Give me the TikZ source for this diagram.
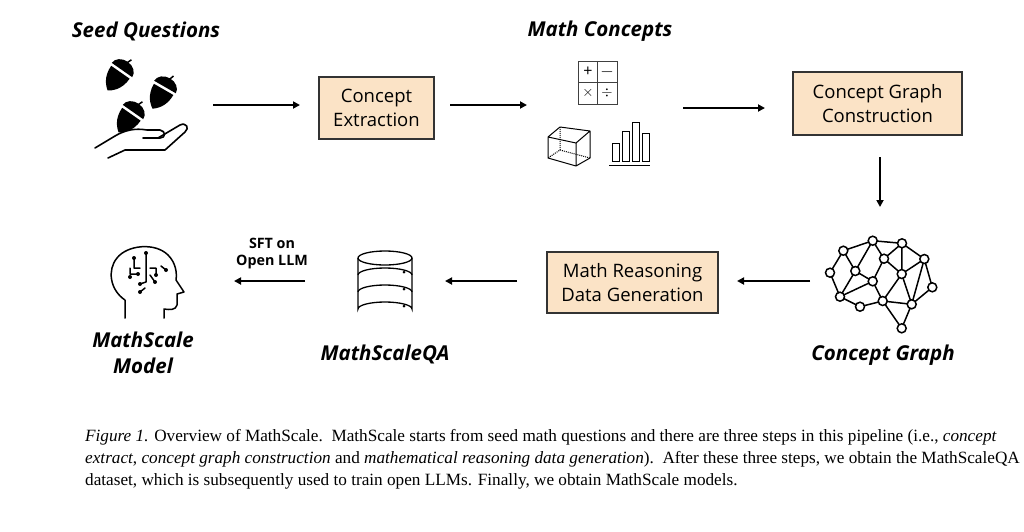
\documentclass[tikz,border=0pt]{standalone}
\usepackage{fontspec}
\setmainfont{Liberation Serif}
\newfontfamily\sansf{Open Sans}
\newfontfamily\boldf{Open Sans}
\usetikzlibrary{arrows.meta}
\definecolor{peach}{HTML}{FBE3C6}
\begin{document}
\begin{tikzpicture}[x=1pt,y=-1pt,
  box/.style={draw=black!80,line width=1.3pt,fill=peach,align=center,font=\sansf\fontsize{18.5}{24}\selectfont,inner sep=0},
  arr/.style={-{Triangle[length=7pt,width=7pt]},line width=1.8pt},
  ttl/.style={font=\boldf\bfseries\itshape\fontsize{20.5}{26}\selectfont,align=center},
  ic/.style={line width=1.6pt,line cap=round,line join=round}]
\useasboundingbox (0,0) rectangle (1024,531);
% titles
\node[ttl] (tseed) at (146,31) {Seed Questions};
\node[ttl] (tmath) at (600,31) {Math Concepts};
\node[ttl] (tcg) at (883,355) {Concept Graph};
\node[ttl] (tqa) at (385,354) {MathScaleQA};
\node[ttl] (tmod) at (143,353) {MathScale\\Model};
\node[font=\boldf\bfseries\fontsize{14.3}{17}\selectfont,align=center] (tsft) at (272,254) {SFT on\\Open LLM};
% boxes
\node[box,minimum width=115,minimum height=62] (ce) at (376.5,108) {Concept\\Extraction};
\node[box,minimum width=169,minimum height=63] (cgc) at (877.5,103.5) {Concept Graph\\Construction};
\node[box,minimum width=171,minimum height=61] (mr) at (632.5,282.5) {Math Reasoning\\Data Generation};
% anchors
\coordinate (s1) at (213,105); \coordinate (e1) at (300,105);
\coordinate (s2) at (450,105); \coordinate (e2) at (527,105);
\coordinate (s3) at (683,108); \coordinate (e3) at (765,108);
\coordinate (s4) at (880,157); \coordinate (e4) at (880,207);
\coordinate (s5) at (810,281); \coordinate (e5) at (737,281);
\coordinate (s6) at (517,281); \coordinate (e6) at (445,281);
\coordinate (s7) at (305,281); \coordinate (e7) at (234,281);
\draw[arr] (s1)--(e1); \draw[arr] (s2)--(e2); \draw[arr] (s3)--(e3);
\draw[arr] (s4)--(e4); \draw[arr] (s5)--(e5); \draw[arr] (s6)--(e6); \draw[arr] (s7)--(e7);
% acorns
\foreach \x/\y/\r in {122/70/-35,165/87/-30,133/112/-35}{
  \begin{scope}[shift={(\x,\y)},rotate=\r,scale=1.25]
   \fill (-10,0) arc(180:360:10 and 8) -- cycle;
   \fill (-9,2.2) .. controls (-9,13) and (-3,18) .. (0,20) .. controls (3,18) and (9,13) .. (9,2.2) -- cycle;
   \draw[line width=1.5pt] (0,-7)--(1.5,-11);
  \end{scope}}
% hand
\draw[ic] (95,148) -- (115,136) .. controls (125,130) and (135,128) .. (147,130) -- (160,130) .. controls (166,131) and (166,138) .. (160,138) -- (143,138);
\draw[ic] (158,138) -- (180,125) .. controls (186,122) and (190,128) .. (185,132) -- (165,150) -- (125,150) -- (108,158);
% math grid
\draw[line width=1pt,black!75] (578,61) rectangle (617,104) (597.5,61)--(597.5,104) (578,82.5)--(617,82.5);
\node[font=\sansf\fontsize{16}{16}\selectfont] (pl) at (588,72) {+};
\node[font=\sansf\fontsize{16}{16}\selectfont] (mi) at (607,72) {$-$};
\node[font=\sansf\fontsize{15}{15}\selectfont] (ti) at (588,93) {$\times$};
\node[font=\sansf\fontsize{15}{15}\selectfont] (dv) at (607,93) {$\div$};
% cube
\begin{scope}[line width=1pt,line join=round]
\draw (548,137)--(560,127)--(590,131)--(590,158)--(576,166)--(548,158)--cycle (548,137)--(576,143)--(590,131) (576,143)--(576,166);
\draw[densely dotted] (560,127)--(560,150)--(548,158) (560,150)--(590,158);
\end{scope}
% bar chart
\begin{scope}[line width=1pt]
\draw (609,165)--(650,165);
\draw (612,143) rectangle (619,161) (622,131) rectangle (629,161) (632,122) rectangle (639,161) (642,133) rectangle (649,161);
\end{scope}
% brain graph
\begin{scope}[line width=1.5pt]
\foreach \n/\x/\y in {A/843.3/250.7,B/872.7/240.7,C/902/243.3,D/924.3/259,E/830/272.7,F/855.3/271,G/884/258.7,H/901.7/274,I/872.7/281.3,J/932.3/287.3,K/840/296.7,L/860/306.7,M/882.7/301,N/911.7/304.3,O/901.7/328.3}
  \coordinate (\n) at (\x,\y);
\foreach \a/\b in {A/B,B/C,C/D,A/E,E/K,A/F,B/F,B/G,G/C,C/H,G/H,H/D,D/J,J/N,D/N,F/I,F/K,I/K,I/M,H/M,H/N,K/L,L/M,M/N,N/O,M/O,G/I}
  \draw (\a)--(\b);
\foreach \n in {A,B,C,D,E,F,G,H,I,J,K,L,M,N,O}
  \draw[fill=white] (\n) circle (4.5);
\end{scope}
% database
\begin{scope}[line width=1.3pt]
\draw (358,258) -- (358,309) arc(180:360:27 and 7) -- (412,258);
\draw (385,258) ellipse (27 and 7);
\draw (358,275) arc(180:360:27 and 7) (358,292) arc(180:360:27 and 7);
\fill (404,272) circle(1.5) (404,289) circle(1.5) (404,306) circle(1.5);
\end{scope}
% head
\begin{scope}[ic,line width=1.5pt]
\draw (125,318) -- (125,300) .. controls (110,290) and (107,270) .. (117,258) .. controls (127,245) and (155,242) .. (168,255) .. controls (176,263) and (177,273) .. (176,280) -- (184,292) -- (177,294) -- (177,305) .. controls (176,310) and (170,310) .. (164,309) -- (164,318);
\draw (134,258)--(134,268)--(140,268) (130,268)--(130,274)--(138,274) (146,253)--(146,282) (150,268)--(156,268)--(156,275) (161,266)--(166,270) (146,282)--(140,284) (150,275)--(155,282) (145,288)--(140,292);
\fill (134,258) circle(2) (138,274) circle(2) (146,253) circle(2) (156,275) circle(2) (166,270) circle(2) (140,284) circle(2) (155,282) circle(2) (140,292) circle(2) (130,277) circle(2);
\end{scope}
% caption
\node[anchor=north west,align=left,font=\fontsize{17.2}{22}\selectfont,inner sep=0] (cap) at (85,429) {\textit{Figure 1.} Overview of MathScale.\ \ MathScale starts from seed math questions and there are three steps in this pipeline (i.e., \textit{concept}\\\textit{extract}, \textit{concept graph construction} and \textit{mathematical reasoning data generation}).\ \ After these three steps, we obtain the MathScaleQA\\dataset, which is subsequently used to train open LLMs. Finally, we obtain MathScale models.};
\end{tikzpicture}
\end{document}
